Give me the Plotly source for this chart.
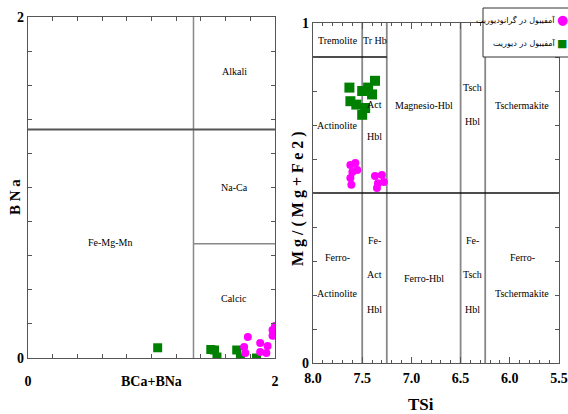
import plotly.graph_objects as go

# ---------------- data ----------------
# Left diagram: BNa vs BCa+BNa
left_dior_x = [1.05, 1.48, 1.51, 1.53, 1.69, 1.72, 1.85]
left_dior_y = [0.06, 0.05, 0.047, 0.006, 0.047, 0.0, 0.0]
left_gran_x = [1.75, 1.76, 1.78, 1.88, 1.88, 1.94, 1.93, 1.98, 2.0, 1.98]
left_gran_y = [0.065, 0.03, 0.123, 0.088, 0.035, 0.07, 0.03, 0.164, 0.188, 0.13]

# Right diagram: Mg/(Mg+Fe2) vs TSi
right_dior_x = [7.63, 7.62, 7.56, 7.50, 7.44, 7.40, 7.37, 7.50, 7.47]
right_dior_y = [0.81, 0.77, 0.76, 0.80, 0.81, 0.79, 0.83, 0.73, 0.75]
right_gran_x = [7.62, 7.57, 7.60, 7.55, 7.62, 7.61, 7.37, 7.30, 7.34, 7.28, 7.35]
right_gran_y = [0.582, 0.588, 0.562, 0.568, 0.544, 0.524, 0.55, 0.553, 0.529, 0.532, 0.515]

series_names = ["آمفیبول در گرانودیوریت", "آمفیبول در دیوریت"]
series_colors = ["#FF00FF", "#008000"]

# classification boundaries (x0, y0, x1, y1)
left_bounds = [(1.34, 0, 1.34, 2), (0, 1.34, 2, 1.34), (1.34, 0.67, 2, 0.67)]
right_bounds = [(7.5, 0, 7.5, 1), (7.25, 0, 7.25, 1), (6.5, 0, 6.5, 1),
                (6.25, 0, 6.25, 1), (8.0, 0.5, 5.5, 0.5), (8.0, 0.9, 7.25, 0.9)]

# field names (text, x, y)
left_fields = [("Alkali", 1.67, 1.68), ("Na-Ca", 1.67, 1.0), ("Calcic", 1.67, 0.35),
               ("Fe-Mg-Mn", 0.66, 0.68)]
right_fields = [("Tremolite", 7.75, 0.95), ("Tr Hb", 7.375, 0.95),
                ("Actinolite", 7.75, 0.70), ("Act", 7.375, 0.76), ("Hbl", 7.375, 0.665),
                ("Magnesio-Hbl", 6.875, 0.756), ("Tsch", 6.375, 0.81), ("Hbl", 6.375, 0.71),
                ("Tschermakite", 5.875, 0.756),
                ("Ferro-", 7.75, 0.31), ("Actinolite", 7.75, 0.205),
                ("Fe-", 7.375, 0.36), ("Act", 7.375, 0.26), ("Hbl", 7.375, 0.156),
                ("Ferro-Hbl", 6.875, 0.25),
                ("Fe-", 6.375, 0.36), ("Tsch", 6.375, 0.26), ("Hbl", 6.375, 0.156),
                ("Ferro-", 5.875, 0.31), ("Tschermakite", 5.875, 0.205)]

left_ticks = [round(i * 0.2, 1) for i in range(11)]
left_ticktext = ["<b>0</b>"] + [""] * 9 + ["<b>2</b>"]
right_yticks = [round(i * 0.1, 1) for i in range(11)]
right_yticktext = ["<b>0</b>"] + [""] * 9 + ["<b>1</b>"]
right_xticks = [8.0, 7.5, 7.0, 6.5, 6.0, 5.5]
right_xticktext = ["<b>8.0</b>", "<b>7.5</b>", "<b>7.0</b>", "<b>6.5</b>", "<b>6.0</b>", "<b>5.5</b>"]

SERIF = "Liberation Serif, Times New Roman, serif"

# figure fills the whole window (body margin removed in post_script)
W, H = 568, 414


def PX(p):
    return p / W


def PY(p):
    return 1 - p / H


fig = go.Figure()

fig.add_trace(go.Scatter(x=left_dior_x, y=left_dior_y, mode="markers", xaxis="x", yaxis="y",
                         marker=dict(symbol="square", size=9, color=series_colors[1]),
                         showlegend=False))
fig.add_trace(go.Scatter(x=left_gran_x, y=left_gran_y, mode="markers", xaxis="x", yaxis="y",
                         marker=dict(symbol="circle", size=8, color=series_colors[0]),
                         showlegend=False))
fig.add_trace(go.Scatter(x=right_dior_x, y=right_dior_y, mode="markers", xaxis="x2", yaxis="y2",
                         marker=dict(symbol="square", size=10, color=series_colors[1]),
                         showlegend=False))
fig.add_trace(go.Scatter(x=right_gran_x, y=right_gran_y, mode="markers", xaxis="x2", yaxis="y2",
                         marker=dict(symbol="circle", size=8, color=series_colors[0]),
                         showlegend=False))

shapes = []
for i, (x0, y0, x1, y1) in enumerate(left_bounds):
    shapes.append(dict(type="line", xref="x", yref="y", x0=x0, y0=y0, x1=x1, y1=y1,
                       line=dict(color="#555555" if i == 1 else "#888888", width=2 if i == 1 else 1.5),
                       layer="below"))
for i, (x0, y0, x1, y1) in enumerate(right_bounds):
    horiz = y0 == y1
    shapes.append(dict(type="line", xref="x2", yref="y2", x0=x0, y0=y0, x1=x1, y1=y1,
                       line=dict(color="#111111" if horiz else "#888888", width=1.5 if horiz else 1.8),
                       layer="below"))
# legend box
shapes.append(dict(type="rect", xref="paper", yref="paper", x0=PX(483), x1=1.02, y0=PY(57), y1=PY(8),
                   fillcolor="white", line=dict(color="#333333", width=1), layer="above"))

annotations = []
for t, x, y in left_fields:
    annotations.append(dict(text=t, x=x, y=y, xref="x", yref="y", showarrow=False,
                            font=dict(family=SERIF, size=10, color="black")))
for t, x, y in right_fields:
    annotations.append(dict(text=t, x=x, y=y, xref="x2", yref="y2", showarrow=False,
                            font=dict(family=SERIF, size=10, color="black")))


def paper_text(text, x, y, size, angle=0, xanchor="center", family=SERIF, color="black"):
    annotations.append(dict(text=text, x=x, y=y, xref="paper", yref="paper", xanchor=xanchor,
                            yanchor="middle", textangle=angle, showarrow=False, borderpad=0,
                            font=dict(family=family, size=size, color=color)))


# axis titles
paper_text("<b>BCa+BNa</b>", PX(151), PY(381), 14)
paper_text("<b>TSi</b>", PX(421), PY(404), 17)
paper_text("<b>" + " ".join("BNa") + "</b>", PX(15), PY(197), 15, angle=-90)
paper_text("<b>" + " ".join("Mg/(Mg+Fe2)") + "</b>", PX(298), PY(199), 16, angle=-90)

# custom legend (text left of marker)
leg_rows = [(series_names[0], series_colors[0], "●", PY(20), 13),
            (series_names[1], series_colors[1], "■", PY(43), 11)]
for name, col, glyph, yy, gsize in leg_rows:
    paper_text(name, PX(556), yy, 8, xanchor="right", family="DejaVu Sans")
    paper_text(glyph, PX(562), yy, gsize, family="DejaVu Sans", color=col)

axis_common = dict(showgrid=False, zeroline=False, showline=True, mirror="ticks", automargin=False,
                   ticks="inside", tickcolor="#555555", linecolor="#555555", linewidth=1.2,
                   tickfont=dict(family=SERIF, size=14, color="black"))

fig.update_layout(
    width=W, height=H,
    margin=dict(l=0, r=0, t=0, b=0, autoexpand=False),
    paper_bgcolor="white", plot_bgcolor="white",
    showlegend=False,
    xaxis=dict(domain=[PX(28), PX(275)], range=[0, 2], tickvals=left_ticks, ticktext=left_ticktext,
               ticklen=4, ticklabelstandoff=10, anchor="y", ticklabeloverflow="allow", **axis_common),
    yaxis=dict(domain=[PY(358), PY(17)], range=[0, 2], tickvals=left_ticks,
               ticktext=left_ticktext, ticklen=4, anchor="x", ticklabeloverflow="allow", **axis_common),
    xaxis2=dict(domain=[PX(313), PX(559)], range=[8.0, 5.5], tickvals=right_xticks,
                ticktext=right_xticktext, ticklen=6, ticklabelstandoff=2, anchor="y2",
                ticklabeloverflow="allow",
                minor=dict(dtick=0.1, tick0=5.5, ticks="inside", ticklen=3, tickcolor="#555555"),
                **axis_common),
    yaxis2=dict(domain=[PY(363), PY(23)], range=[0, 1], tickvals=right_yticks,
                ticktext=right_yticktext, ticklen=4, anchor="x2", ticklabeloverflow="allow",
                **axis_common),
    shapes=shapes,
    annotations=annotations,
)

fig.write_html("out.html", config={"displayModeBar": False},
               post_script="document.body.style.margin='0';document.body.style.overflow='hidden';")
